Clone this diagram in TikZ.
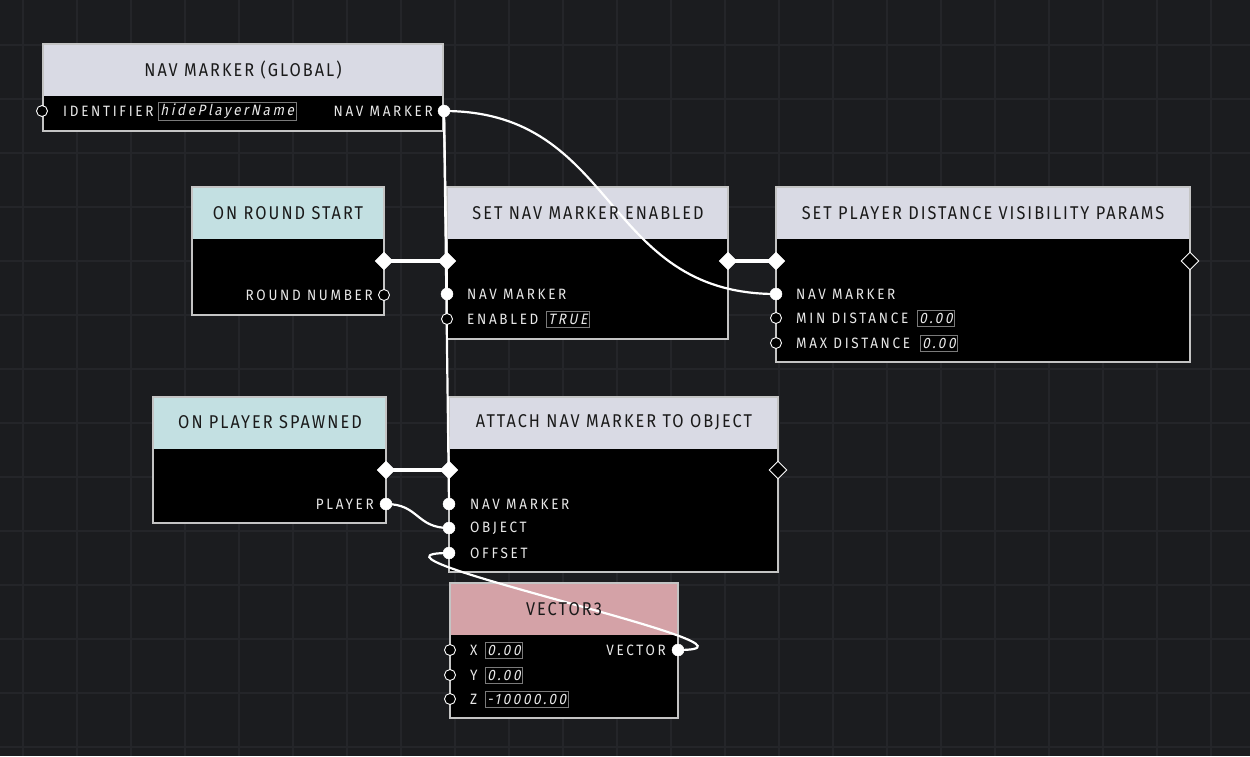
\documentclass[tikz,border=0pt]{standalone}
\usepackage{fontspec}
\setmainfont{Fira Sans}
\newfontfamily\hdrfont[LetterSpace=11,FakeStretch=0.88]{Fira Sans}
\newfontfamily\prtfont[LetterSpace=18,FakeStretch=0.9]{Fira Sans}
\newfontfamily\valfont[LetterSpace=17,FakeSlant=0.2,FakeStretch=0.9]{Fira Sans}
\usetikzlibrary{shapes.geometric}
\pgfdeclarelayer{bg}\pgfdeclarelayer{edges}\pgfsetlayers{bg,edges,main}
\definecolor{canvas}{HTML}{1B1C1F}
\definecolor{gridc}{HTML}{242529}
\definecolor{lav}{HTML}{D9DAE4}
\definecolor{cyanh}{HTML}{C3E0E2}
\definecolor{pinkh}{HTML}{D4A2A7}
\definecolor{edgec}{HTML}{C4C4C4}
\definecolor{hdrtext}{HTML}{1A1A1A}
\definecolor{bodytext}{HTML}{E8E8E8}
\definecolor{boxgray}{HTML}{7A7A7A}
\tikzset{
 hdr/.style={font=\hdrfont\fontsize{18.5}{20}\selectfont, text=hdrtext, inner sep=0},
 plbl/.style={font=\prtfont\fontsize{15}{17}\selectfont, text=bodytext, inner sep=0},
 vbox/.style={font=\valfont\fontsize{15}{17}\selectfont, text=bodytext, draw=boxgray, line width=0.8, inner xsep=2pt, inner ysep=1.5pt, minimum height=16, anchor=west},
 oport/.style={circle, draw=white, fill=black, line width=0.9, minimum size=11, inner sep=0},
 fport/.style={circle, draw=white, fill=white, minimum size=12, inner sep=0},
 fdia/.style={diamond, fill=white, draw=white, minimum width=18, minimum height=18, inner sep=0},
 odia/.style={diamond, draw=white, fill=black, line width=0.9, minimum width=18, minimum height=18, inner sep=0},
 execw/.style={draw=white, line width=4},
 wire/.style={draw=white, line width=2.2},
 nodeedge/.style={draw=edgec, line width=1.2},
 gridline/.style={draw=gridc, line width=1.3},
}
\begin{document}
\begin{tikzpicture}[x=1pt,y=-1pt]
\useasboundingbox (0,0) rectangle (1250,756);
\begin{pgfonlayer}{bg}
\fill[canvas] (0,0) rectangle (1250,756);
\foreach \gx in {23,77,...,1250} \draw[gridline] (\gx,0) -- (\gx,756);
\foreach \gy in {45,99,...,756} \draw[gridline] (0,\gy) -- (1250,\gy);
% A
\fill[black] (43,44) rectangle (443,131);
\fill[lav] (43,44) rectangle (443,96);
\draw[nodeedge] (43,44) rectangle (443,131);
% B
\fill[black] (192,187) rectangle (384,315);
\fill[cyanh] (192,187) rectangle (384,239);
\draw[nodeedge] (192,187) rectangle (384,315);
% C
\fill[black] (447,187) rectangle (728,339);
\fill[lav] (447,187) rectangle (728,239);
\draw[nodeedge] (447,187) rectangle (728,339);
% D
\fill[black] (776,187) rectangle (1190,362);
\fill[lav] (776,187) rectangle (1190,239);
\draw[nodeedge] (776,187) rectangle (1190,362);
% E
\fill[black] (153,397) rectangle (386,523);
\fill[cyanh] (153,397) rectangle (386,449);
\draw[nodeedge] (153,397) rectangle (386,523);
% F
\fill[black] (449,397) rectangle (778,572);
\fill[lav] (449,397) rectangle (778,449);
\draw[nodeedge] (449,397) rectangle (778,572);
% G
\fill[black] (450,583) rectangle (678,718);
\fill[pinkh] (450,583) rectangle (678,635);
\draw[nodeedge] (450,583) rectangle (678,718);
\end{pgfonlayer}

% headers
\node[hdr] (hA) at (243,70) {NAV MARKER (GLOBAL)};
\node[hdr] (hB) at (288,213) {ON ROUND START};
\node[hdr] (hC) at (588,213) {SET NAV MARKER ENABLED};
\node[hdr] (hD) at (983,213) {SET PLAYER DISTANCE VISIBILITY PARAMS};
\node[hdr] (hE) at (270,422) {ON PLAYER SPAWNED};
\node[hdr] (hF) at (614,422) {ATTACH NAV MARKER TO OBJECT};
\node[hdr] (hG) at (564,609) {VECTOR3};

% A ports
\node[oport] (aId) at (42,111) {};
\node[plbl, anchor=west] (laId) at (63,111) {IDENTIFIER};
\node[vbox] (vaId) at (158,111) {hidePlayerName};
\node[fport] (aNm) at (444,111) {};
\node[plbl, anchor=east] (laNm) at (433,111) {NAV MARKER};

% B ports
\node[fdia] (bOut) at (384,261) {};
\node[oport] (bRn) at (384,295) {};
\node[plbl, anchor=east] (lbRn) at (373,295) {ROUND NUMBER};

% C ports
\node[fdia] (cIn) at (447,261) {};
\node[fdia] (cOut) at (728,261) {};
\node[fport] (cNm) at (447,294) {};
\node[plbl, anchor=west] (lcNm) at (467,294) {NAV MARKER};
\node[oport] (cEn) at (447,319) {};
\node[plbl, anchor=west] (lcEn) at (467,319) {ENABLED};
\node[vbox] (vcEn) at (546,319) {TRUE};

% D ports
\node[fdia] (dIn) at (776,261) {};
\node[odia] (dOut) at (1190,261) {};
\node[fport] (dNm) at (776,294) {};
\node[plbl, anchor=west] (ldNm) at (796,294) {NAV MARKER};
\node[oport] (dMin) at (776,318) {};
\node[plbl, anchor=west] (ldMin) at (796,318) {MIN DISTANCE};
\node[vbox] (vdMin) at (917,318) {0.00};
\node[oport] (dMax) at (776,343) {};
\node[plbl, anchor=west] (ldMax) at (796,343) {MAX DISTANCE};
\node[vbox] (vdMax) at (920,343) {0.00};

% E ports
\node[fdia] (eOut) at (386,470) {};
\node[fport] (ePl) at (386,504) {};
\node[plbl, anchor=east] (lePl) at (374,504) {PLAYER};

% F ports
\node[fdia] (fIn) at (449,470) {};
\node[odia] (fOut) at (778,470) {};
\node[fport] (fNm) at (449,504) {};
\node[plbl, anchor=west] (lfNm) at (470,504) {NAV MARKER};
\node[fport] (fOb) at (449,528) {};
\node[plbl, anchor=west] (lfOb) at (470,528) {OBJECT};
\node[fport] (fOf) at (449,553) {};
\node[plbl, anchor=west] (lfOf) at (470,553) {OFFSET};

% G ports
\node[oport] (gX) at (450,650) {};
\node[plbl, anchor=west] (lgX) at (470,650) {X};
\node[vbox] (vgX) at (485,650) {0.00};
\node[oport] (gY) at (450,675) {};
\node[plbl, anchor=west] (lgY) at (470,675) {Y};
\node[vbox] (vgY) at (485,675) {0.00};
\node[oport] (gZ) at (450,699) {};
\node[plbl, anchor=west] (lgZ) at (470,699) {Z};
\node[vbox] (vgZ) at (485,699) {-10000.00};
\node[fport] (gV) at (678,650) {};
\node[plbl, anchor=east] (lgV) at (666,650) {VECTOR};

% connectors
\begin{pgfonlayer}{edges}
\draw[execw] (bOut.center) -- (cIn.center);
\draw[execw] (cOut.center) -- (dIn.center);
\draw[execw] (eOut.center) -- (fIn.center);
\draw[wire] (aNm.center) -- (cNm.center);
\draw[wire] (aNm.center) -- (fNm.center);
\draw[wire] (aNm.center) .. controls +(175,0) and +(-175,0) .. (dNm.center);
\draw[wire] (ePl.center) .. controls +(33,0) and +(-33,0) .. (fOb.center);
\draw[wire] (gV.center) .. controls +(120,0) and +(-120,0) .. (fOf.center);
\end{pgfonlayer}
\end{tikzpicture}
\end{document}
